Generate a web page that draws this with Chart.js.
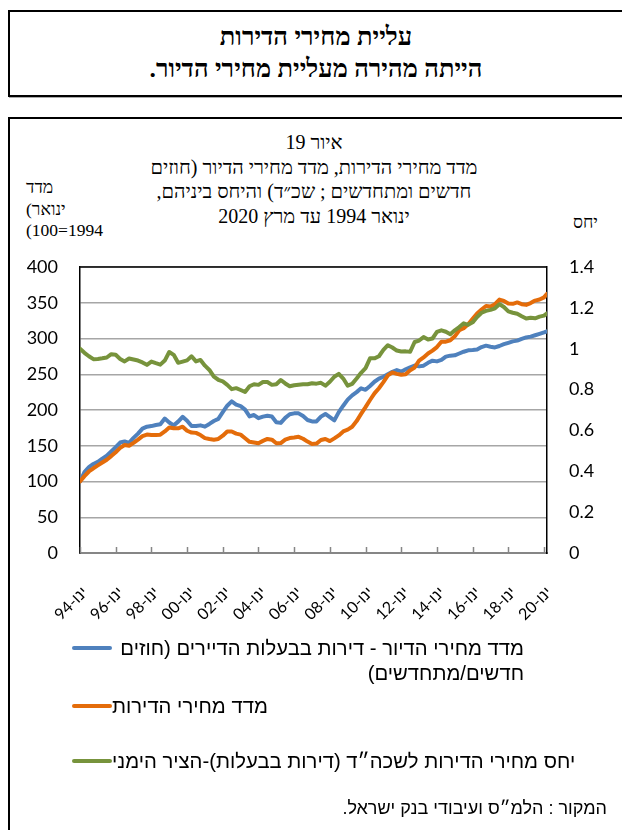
<!DOCTYPE html>
<html lang="he">
<head>
<meta charset="utf-8">
<script src="https://cdn.jsdelivr.net/npm/chart.js@4.4.1/dist/chart.umd.min.js"></script>
<style>
html,body{margin:0;padding:0;background:#fff;width:622px;height:830px;overflow:hidden;position:relative}
.serif{font-family:'Liberation Serif','Times New Roman',serif;color:#000}
.sans{font-family:'Liberation Sans',Arial,sans-serif;color:#000}
#banner{position:absolute;left:8px;top:10px;width:640px;height:83px;border:2px solid #000;box-shadow:1px 1px 0 #aaa}
#banner div{position:absolute;left:0;width:612px;text-align:center;font-weight:bold;font-size:25.5px;direction:rtl;line-height:28px}
#panel{position:absolute;left:8px;top:117px;width:640px;height:760px;border:2px solid #000}
#chartTitle{position:absolute;left:0;top:130px;width:628px;text-align:center;direction:rtl;font-size:20px;line-height:24.7px}
#yTitleL{position:absolute;left:26px;top:177px;text-align:left;font-size:17.5px;line-height:21.5px;white-space:nowrap}
#yTitleR{position:absolute;left:573px;top:211px;font-size:17.5px;line-height:22px;direction:rtl}
#chart{position:absolute;left:0;top:0}
.lg-line{position:absolute;left:72px;width:40px;height:4px;border-radius:2px}
.lg-text{position:absolute;left:112px;direction:rtl;font-size:20.3px;line-height:25px;white-space:normal}
#source{position:absolute;right:15px;top:797px;direction:rtl;font-size:18px;line-height:22px}
</style>
</head>
<body>
<div id="banner" class="serif">
  <div style="top:11px">עליית מחירי הדירות</div>
  <div style="top:43px">הייתה מהירה מעליית מחירי הדיור.</div>
</div>
<div id="panel"></div>
<div id="chartTitle" class="serif">איור 19<br>מדד מחירי הדירות, מדד מחירי הדיור (חוזים<br>חדשים ומתחדשים ; שכ״ד) והיחס ביניהם,<br>ינואר 1994 עד מרץ 2020</div>
<div id="yTitleL" class="serif"><div dir="ltr">מדד</div><div dir="ltr">(ינואר</div><div dir="ltr">(100=1994</div></div>
<div id="yTitleR" class="serif">יחס</div>
<canvas id="chart" width="622" height="830" dir="rtl"></canvas>
<div id="legend" class="sans"></div>
<div id="source" class="sans">המקור : הלמ״ס ועיבודי בנק ישראל.</div>
<script>
// Series names
const seriesNames = [
  'מדד מחירי הדיור - דירות בבעלות הדיירים (חוזים חדשים/מתחדשים)',
  'מדד מחירי הדירות',
  'יחס מחירי הדירות לשכה״ד (דירות בבעלות)-הציר הימני'
];
// x tick labels (January of every second year)
const tickLabels = ['ינו-94','ינו-96','ינו-98','ינו-00','ינו-02','ינו-04','ינו-06','ינו-08','ינו-10','ינו-12','ינו-14','ינו-16','ינו-18','ינו-20'];

// Quarterly readings (Jan, Apr, Jul, Oct) 1994-2019, then Jan and Mar 2020
const housingIndex = [
  100, 113, 120, 124.5,
  127.5, 132, 136, 142,
  148, 154.5, 156, 154,
  161, 167, 174, 176.7,
  177.5, 179, 180, 188,
  182.5, 178.5, 183.7, 190.5,
  185, 177.5, 177.5, 178.5,
  176.7, 180.5, 184.6, 187.5,
  197, 206, 212, 207.5,
  205.5, 200.5, 191, 193,
  188.5, 190.7, 192, 191,
  183, 182, 189, 194,
  195.3, 195.3, 191.5, 186,
  184, 184, 190.7, 194.5,
  190, 185.5, 197, 206,
  214.5, 220.5, 225, 230.3,
  228.2, 233.5, 239.5, 243.8,
  246.5, 250, 253.4, 255.8,
  253.6, 257, 259.8, 262.2,
  261, 262, 266, 269,
  268, 270, 274.6, 276,
  276.5, 279, 281.5, 283.5,
  283.9, 284.5, 288, 290,
  288.5, 287.5, 289.5, 292,
  294, 296, 297, 299.5,
  301.5, 302.6, 304.5, 306.5,
  308.5, 310
];
const apartmentIndex = [
  100, 107.5, 114, 118.5,
  122.5, 126.5, 130.5, 135.5,
  141, 147, 151, 150,
  154, 158.5, 163.5, 165.7,
  165, 165, 165.5, 170,
  175.5, 174.4, 174.4, 176.7,
  171, 168.5, 168, 165,
  160.7, 159.5, 158.5, 159.5,
  164, 170, 170, 167,
  165.5, 160.5, 155.5, 154.5,
  153.6, 156.8, 159.5, 158.5,
  153.5, 153.8, 158.5, 160.8,
  161.5, 162.5, 159.8, 155.8,
  152.5, 153, 158, 159.5,
  156.5, 160.3, 164.5, 170,
  172.5, 176.5, 184.5, 194.5,
  204, 214, 223.3, 230.5,
  239, 248.5, 252.5, 250.5,
  249.2, 250, 255.5, 259.5,
  269, 273.5, 279, 283,
  288, 295.6, 295.6, 297.5,
  303, 311.5, 314.5, 320,
  327.5, 335, 340.5, 345.5,
  344.8, 348, 354.5, 352.5,
  349, 348.5, 350.5, 348,
  347, 349.5, 353, 354.5,
  357.5, 362.5
];
const priceRentRatio = [
  1.000, 0.980, 0.963, 0.949,
  0.950, 0.953, 0.957, 0.973,
  0.970, 0.950, 0.938, 0.952,
  0.947, 0.942, 0.933, 0.921,
  0.937, 0.929, 0.922, 0.942,
  0.984, 0.970, 0.931, 0.937,
  0.943, 0.963, 0.938, 0.945,
  0.917, 0.896, 0.863, 0.848,
  0.840, 0.823, 0.802, 0.807,
  0.798, 0.788, 0.816, 0.826,
  0.823, 0.837, 0.837, 0.823,
  0.826, 0.847, 0.830, 0.816,
  0.821, 0.824, 0.826, 0.826,
  0.831, 0.829, 0.833, 0.819,
  0.838, 0.863, 0.877, 0.854,
  0.819, 0.828, 0.854, 0.882,
  0.905, 0.953, 0.953, 0.963,
  0.994, 1.017, 1.006, 0.991,
  0.986, 0.987, 0.985, 1.033,
  1.040, 1.057, 1.045, 1.050,
  1.082, 1.090, 1.083, 1.071,
  1.090, 1.106, 1.124, 1.117,
  1.129, 1.155, 1.176, 1.185,
  1.190, 1.198, 1.218, 1.204,
  1.183, 1.176, 1.171, 1.159,
  1.148, 1.152, 1.149, 1.157,
  1.162, 1.173
];
const seriesColors = ['#4F81BD', '#E46C0A', '#77933C'];

// months since Jan 1994 for each reading
const monthIndex = [];
for (let i = 0; i < 105; i++) monthIndex.push(i * 3);
monthIndex.push(314);
const toPoints = arr => arr.map((v, i) => ({x: monthIndex[i], y: v}));

const framePlugin = {
  id: 'frame',
  afterDraw(chart) {
    const {ctx, chartArea: a, scales} = chart;
    ctx.save();
    ctx.strokeStyle = '#000';
    ctx.lineWidth = 1.5;
    ctx.beginPath();
    ctx.moveTo(a.left, a.top); ctx.lineTo(a.right, a.top);
    ctx.stroke();
    // inner tick marks on x axis
    const xs = scales.x;
    ctx.strokeStyle = '#868686';
    ctx.lineWidth = 1.5;
    xs.ticks.forEach(t => {
      const px = Math.round(xs.getPixelForValue(t.value)) + 0.5;
      ctx.beginPath();
      ctx.moveTo(px, a.bottom); ctx.lineTo(px, a.bottom - 6);
      ctx.stroke();
    });
    ctx.restore();
  }
};

const tickFont = {family: "Lato, 'Liberation Sans', sans-serif", size: 18};

new Chart(document.getElementById('chart'), {
  type: 'line',
  data: {
    datasets: [
      {label: seriesNames[0], data: toPoints(housingIndex), yAxisID: 'y', borderColor: seriesColors[0], order: 3},
      {label: seriesNames[1], data: toPoints(apartmentIndex), yAxisID: 'y', borderColor: seriesColors[1], order: 2},
      {label: seriesNames[2], data: toPoints(priceRentRatio), yAxisID: 'y1', borderColor: seriesColors[2], order: 1}
    ]
  },
  options: {
    responsive: false,
    animation: false,
    devicePixelRatio: 1,
    elements: {
      line: {borderWidth: 4, tension: 0, borderCapStyle: 'round', borderJoinStyle: 'round', fill: false},
      point: {radius: 0, hoverRadius: 0}
    },
    layout: {padding: {top: 267, left: 0, right: 0, bottom: 197}},
    plugins: {legend: {display: false}, tooltip: {enabled: false}, title: {display: false}},
    scales: {
      x: {
        type: 'linear', min: 0, max: 314,
        grid: {display: false},
        border: {display: true, color: '#868686', width: 2},
        ticks: {
          stepSize: 24, includeBounds: false, autoSkip: false,
          minRotation: 45, maxRotation: 45, padding: 22, labelOffset: 5,
          color: '#000', font: {family: "Lato, 'Liberation Sans', sans-serif", size: 16},
          callback: v => tickLabels[Math.round(v / 24)]
        },
        afterFit: s => { s.height = 80; }
      },
      y: {
        position: 'left', min: 0, max: 400,
        grid: {color: '#a6a6a6', lineWidth: 1.5, drawTicks: false},
        border: {display: true, color: '#000', width: 1.5},
        ticks: {stepSize: 50, padding: 22, color: '#000', font: tickFont},
        afterFit: s => { s.width = 80; }
      },
      y1: {
        position: 'right', min: 0, max: 1.4,
        grid: {drawOnChartArea: false, drawTicks: false},
        border: {display: true, color: '#000', width: 1.5},
        ticks: {stepSize: 0.2, padding: 22, color: '#000', font: tickFont,
          callback: v => String(Math.round(v * 10) / 10)},
        afterFit: s => { s.width = 75; }
      }
    }
  },
  plugins: [framePlugin]
});

// HTML legend built from the series
const legendTops = [648, 706, 761];
const legendWidth = [412, null, null];
const legend = document.getElementById('legend');
seriesNames.forEach((name, i) => {
  const line = document.createElement('div');
  line.className = 'lg-line';
  line.style.top = (legendTops[i] - 2) + 'px';
  line.style.background = seriesColors[i];
  legend.appendChild(line);
  const txt = document.createElement('div');
  txt.className = 'lg-text';
  txt.style.top = (legendTops[i] - 12.5) + 'px';
  if (legendWidth[i]) { txt.style.width = legendWidth[i] + 'px'; txt.style.textAlign = 'right'; }
  else { txt.style.whiteSpace = 'nowrap'; txt.style.textAlign = 'left'; }
  txt.textContent = name;
  legend.appendChild(txt);
});
</script>
</body>
</html>
